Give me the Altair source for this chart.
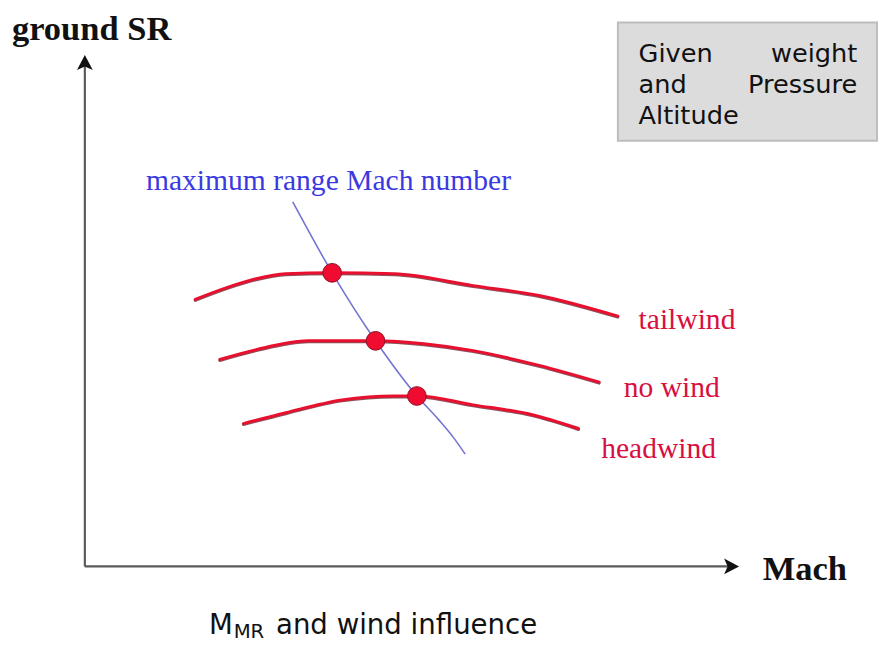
import altair as alt
import pandas as pd

# Schematic values (x grows with Mach, y grows downward = lower SR)
tail_x = [198, 230, 260, 290, 337, 400, 480, 547, 627]
tail_y = [296, 284, 275, 270, 269, 270, 282, 292, 313]
nowind_x = [223, 260, 313, 381, 430, 480, 547, 608]
nowind_y = [357, 347, 338, 338, 341, 348, 363, 380]
head_x = [247, 290, 347, 400, 423, 480, 540, 587]
head_y = [422, 411, 398, 394, 394, 403, 413, 427]

mmr_x = [297, 337, 381, 423, 445, 460, 472]
mmr_y = [197, 269, 338, 394, 418, 436, 453]

opt_x = [337, 381, 423]
opt_y = [269, 338, 394]

series = ["tailwind", "no wind", "headwind"]
series_label_x = [648, 633, 610]
series_label_y = [326, 395, 457]

W, H = 870, 632
X0, Y0 = 8, 8

xs = alt.Scale(domain=[X0, X0 + W], nice=False, zero=False)
ys = alt.Scale(domain=[Y0, Y0 + H], nice=False, zero=False, reverse=True)


def X(f="x"):
    return alt.X(f"{f}:Q", scale=xs, axis=None)


def Y(f="y"):
    return alt.Y(f"{f}:Q", scale=ys, axis=None)


rows = []
for name, xv, yv in [("tailwind", tail_x, tail_y), ("no wind", nowind_x, nowind_y),
                     ("headwind", head_x, head_y)]:
    for i, (a, b) in enumerate(zip(xv, yv)):
        rows.append({"s": name, "x": a, "y": b, "o": i})
curves_df = pd.DataFrame(rows)

curves_shadow = alt.Chart(curves_df).mark_line(
    color="#5a0a18", strokeWidth=3, interpolate="monotone", strokeCap="round",
    yOffset=1, opacity=0.7
).encode(x=X(), y=Y(), detail="s:N", order="o:Q")
curves = alt.Chart(curves_df).mark_line(
    color="#e8102e", strokeWidth=3, interpolate="monotone", strokeCap="round"
).encode(x=X(), y=Y(), detail="s:N", order="o:Q")

mmr_df = pd.DataFrame({"x": mmr_x, "y": mmr_y, "o": range(len(mmr_x))})
mmr = alt.Chart(mmr_df).mark_line(
    color="#7474d2", strokeWidth=1.6, interpolate="monotone"
).encode(x=X(), y=Y(), order="o:Q")

dots = alt.Chart(pd.DataFrame({"x": opt_x, "y": opt_y})).mark_point(
    shape="circle", filled=True, size=360, fill="#f00c30", stroke="#8c1024",
    strokeWidth=1, opacity=1
).encode(x=X(), y=Y())

# axes
axis_df = pd.DataFrame({"x": [86, 86], "y": [567, 567], "x2": [86, 745], "y2": [58, 567]})
axes = alt.Chart(axis_df).mark_rule(color="#5a5a5a", strokeWidth=2.2).encode(
    x=X(), y=Y(), x2="x2:Q", y2="y2:Q"
)
up_arrow = alt.Chart(pd.DataFrame({"x": [86], "y": [56]})).mark_point(
    shape="M0,-1 L1,0.9 L0,0.45 L-1,0.9 Z", size=256, filled=True,
    fill="#111111", strokeWidth=0, opacity=1
).encode(x=X(), y=Y())
right_arrow = alt.Chart(pd.DataFrame({"x": [742], "y": [567]})).mark_point(
    shape="M1,0 L-0.9,1 L-0.45,0 L-0.9,-1 Z", size=256, filled=True,
    fill="#111111", strokeWidth=0, opacity=1
).encode(x=X(), y=Y())

# axis titles
ax_titles = pd.DataFrame({"x": [12, 774], "y": [33, 581], "t": ["ground SR", "Mach"]})
ax_text = alt.Chart(ax_titles).mark_text(
    font="Liberation Serif", fontWeight="bold", fontSize=35, align="left",
    baseline="alphabetic", color="#111111"
).encode(x=X(), y=Y(), text="t:N")

# series labels
lab_df = pd.DataFrame({"x": series_label_x, "y": series_label_y, "t": series})
lab_text = alt.Chart(lab_df).mark_text(
    font="Liberation Serif", fontSize=30, align="left", baseline="alphabetic",
    color="#d8103f"
).encode(x=X(), y=Y(), text="t:N")

mmr_lab = alt.Chart(pd.DataFrame({"x": [148], "y": [185], "t": ["maximum range Mach number"]})).mark_text(
    font="Liberation Serif", fontSize=30, align="left", baseline="alphabetic",
    color="#3a3ae0"
).encode(x=X(), y=Y(), text="t:N")

# info box
box = alt.Chart(pd.DataFrame({"x": [627], "x2": [890], "y": [15], "y2": [135]})).mark_rect(
    fill="#dcdcdc", stroke="#bdbdbd", strokeWidth=2
).encode(x=X(), x2="x2:Q", y=Y(), y2="y2:Q")

box_left = pd.DataFrame({"x": [648, 648, 648], "y": [55, 86, 118], "t": ["Given", "and", "Altitude"]})
box_right = pd.DataFrame({"x": [870, 870], "y": [55, 86], "t": ["weight", "Pressure"]})
bl = alt.Chart(box_left).mark_text(
    font="DejaVu Sans", fontSize=26, align="left", baseline="alphabetic", color="#111111"
).encode(x=X(), y=Y(), text="t:N")
br = alt.Chart(box_right).mark_text(
    font="DejaVu Sans", fontSize=26, align="right", baseline="alphabetic", color="#111111"
).encode(x=X(), y=Y(), text="t:N")

# caption
cap_main = alt.Chart(pd.DataFrame({"x": [212, 280], "y": [636, 636], "t": ["M", "and wind influence"]})).mark_text(
    font="DejaVu Sans", fontSize=28, align="left", baseline="alphabetic", color="#111111"
).encode(x=X(), y=Y(), text="t:N")
cap_sub = alt.Chart(pd.DataFrame({"x": [237], "y": [640], "t": ["MR"]})).mark_text(
    font="DejaVu Sans", fontSize=20, align="left", baseline="alphabetic", color="#111111"
).encode(x=X(), y=Y(), text="t:N")

chart = alt.layer(
    box, bl, br, axes, up_arrow, right_arrow, ax_text, curves_shadow, curves, mmr, dots,
    lab_text, mmr_lab, cap_main, cap_sub
).properties(width=W, height=H, padding=0, background="white").configure_view(stroke=None)

chart.save("out.html", embed_options={"renderer": "svg", "actions": False})
